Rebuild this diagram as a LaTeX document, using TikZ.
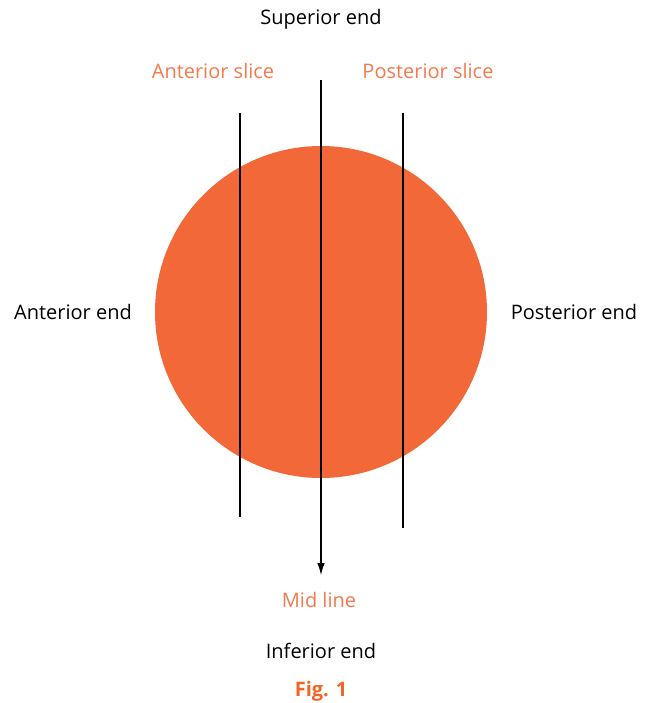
\documentclass[tikz,border=0pt]{standalone}
\usepackage{fontspec}
\setmainfont{Open Sans}
\usepackage{xcolor}
\usetikzlibrary{arrows.meta,positioning,calc}
\definecolor{sphere}{HTML}{F26839}
\definecolor{slicetxt}{HTML}{F47A4E}
\definecolor{figtxt}{HTML}{F26522}

\begin{document}
\begin{tikzpicture}[
  x=0.5pt, y=-0.5pt,
  label/.style={font=\fontsize{10}{12}\selectfont, inner sep=0pt},
  orange label/.style={label, text=slicetxt},
  cut/.style={line width=0.6pt},
  arrow/.style={-{Latex[length=6pt, width=3.8pt]}, line width=0.6pt}
]
\useasboundingbox (0,0) rectangle (645,703);
\fill[sphere] (321,312) circle[radius=166];
% slices and mid line
\coordinate (AT) at (240,113);
\coordinate (AB) at (240,517);
\coordinate (PT) at (403,113);
\coordinate (PB) at (403,528);
\coordinate (MT) at (321,80);
\coordinate (MB) at (321,575);
\draw[cut] (AT) -- (AB);
\draw[cut] (PT) -- (PB);
\draw[arrow] (MT) -- (MB);
% labels
\node[label] (sup) at (321,19) {Superior end};
\node[orange label] (aslice) at (213,71) {Anterior slice};
\node[orange label] (pslice) at (428,71) {Posterior slice};
\node[label] (ant) at (73,312) {Anterior end};
\node[label] (post) at (574,312) {Posterior end};
\node[orange label] (mid) at (319,600) {Mid line};
\node[label] (inf) at (321,651) {Inferior end};
\node[label, text=figtxt, font=\fontsize{10}{12}\selectfont\bfseries] (fig) at (321,691) {Fig. 1};
\end{tikzpicture}
\end{document}
